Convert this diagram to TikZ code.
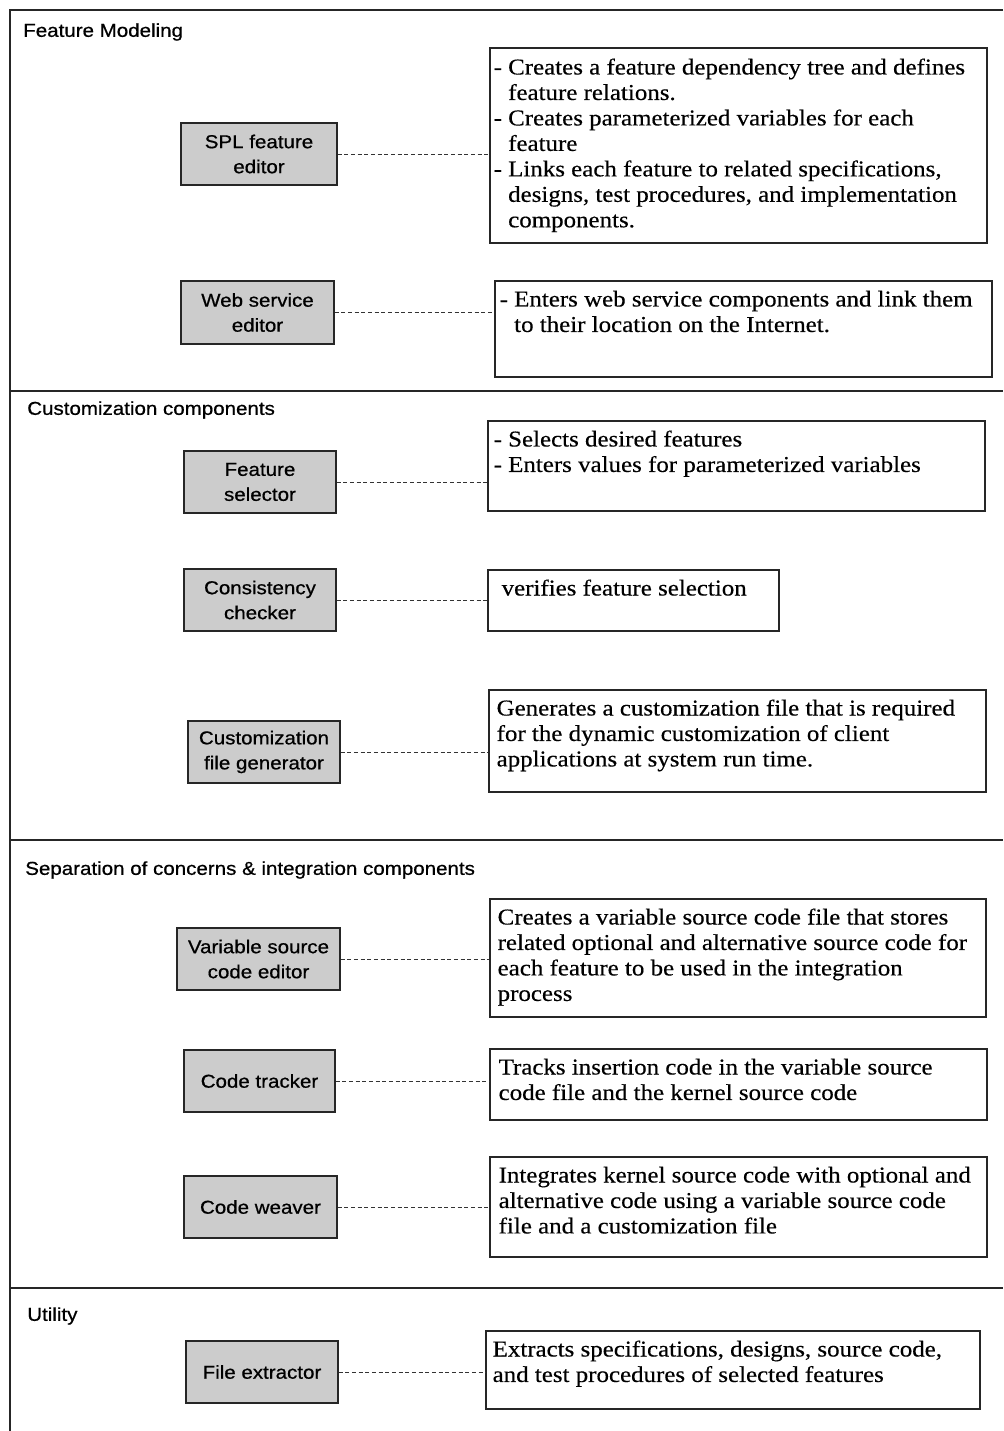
\documentclass[tikz,border=0pt]{standalone}
\usepackage{fontspec}
\setmainfont[FakeStretch=1.1,FakeBold=0.4]{Liberation Serif}
\setsansfont[FakeStretch=1.1,FakeBold=0.7]{Liberation Sans}
\usetikzlibrary{calc,fit}

\newcommand{\hang}{\hphantom{-\ }}

\begin{document}
\begin{tikzpicture}[x=0.75pt,y=-0.75pt,
  frameline/.style={draw=black!85, line width=1.1pt},
  % box given by its corners x1,y1,x2,y2 (pixel grid)
  span/.style n args={4}{at={({(#1+#3)/2},{(#2+#4)/2})},
    minimum width={(#3-#1)*0.75pt}, minimum height={(#4-#2)*0.75pt}},
  compbox/.style={draw=black!85, line width=0.9pt, fill=black!20, inner sep=0pt,
    font=\sffamily\fontsize{14}{18.75}\selectfont, align=center},
  descbox/.style={draw=black!85, line width=0.9pt, inner sep=0pt},
  desctext/.style={anchor=north west, inner sep=0pt, align=left,
    font=\rmfamily\fontsize{17}{19.1}\selectfont},
  sectitle/.style={anchor=west, inner sep=0pt, font=\sffamily\fontsize{14}{16}\selectfont},
  link/.style={draw=black!80, line width=0.6pt, dash pattern=on 3pt off 2pt}]

\useasboundingbox (0,0) rectangle (1003,1431);

% outer frame and section dividers
\draw[frameline] (1003,10) -- (10,10) -- (10,1431);
\draw[frameline] (10,391) -- (1003,391);
\draw[frameline] (10,840) -- (1003,840);
\draw[frameline] (10,1288) -- (1003,1288);

% section titles
\node[sectitle] (t1) at (23,32) {Feature Modeling};
\node[sectitle] (t2) at (27,410) {Customization components};
\node[sectitle] (t3) at (25,870) {Separation of concerns \& integration components};
\node[sectitle] (t4) at (27,1316) {Utility};

% components
\node[compbox, span={181}{123}{337}{185}] (g1) {SPL feature\\editor};
\node[compbox, span={181}{281}{334}{344}] (g2) {Web service\\editor};
\node[compbox, span={184}{451}{336}{513}] (g3) {Feature\\selector};
\node[compbox, span={184}{569}{336}{631}] (g4) {Consistency\\checker};
\node[compbox, span={188}{721}{340}{783}] (g5) {Customization\\file generator};
\node[compbox, span={177}{928}{340}{990}] (g6) {Variable source\\code editor};
\node[compbox, span={184}{1050}{335}{1112}] (g7) {Code tracker};
\node[compbox, span={184}{1176}{337}{1238}] (g8) {Code weaver};
\node[compbox, span={186}{1341}{338}{1403}] (g9) {File extractor};

% description frames
\node[descbox, fit={(490,48) (987,243)}] (d1) {};
\node[descbox, fit={(495,281) (992,377)}] (d2) {};
\node[descbox, fit={(488,421) (985,511)}] (d3) {};
\node[descbox, fit={(488,570) (779,631)}] (d4) {};
\node[descbox, fit={(489,690) (986,792)}] (d5) {};
\node[descbox, fit={(490,899) (986,1017)}] (d6) {};
\node[descbox, fit={(490,1049) (987,1120)}] (d7) {};
\node[descbox, fit={(490,1157) (987,1257)}] (d8) {};
\node[descbox, fit={(486,1331) (980,1409)}] (d9) {};

% description texts
\node[desctext] (x1) at ($(d1.north west)+(4,9)$) {\strut- Creates a feature dependency tree and defines\\
  \hang feature relations.\\
  - Creates parameterized variables for each\\
  \hang feature\\
  - Links each feature to related specifications,\\
  \hang designs, test procedures, and implementation\\
  \hang components.};
\node[desctext] (x2) at ($(d2.north west)+(5,8)$) {\strut- Enters web service components and link them\\
  \hang to their location on the Internet.};
\node[desctext] (x3) at ($(d3.north west)+(6,8)$) {\strut- Selects desired features\\
  - Enters values for parameterized variables};
\node[desctext] (x4) at ($(d4.north west)+(14,8)$) {\strut verifies feature selection};
\node[desctext] (x5) at ($(d5.north west)+(8,8)$) {\strut Generates a customization file that is required\\
  for the dynamic customization of client\\
  applications at system run time.};
\node[desctext] (x6) at ($(d6.north west)+(8,8)$) {\strut Creates a variable source code file that stores\\
  related optional and alternative source code for\\
  each feature to be used in the integration\\
  process};
\node[desctext] (x7) at ($(d7.north west)+(9,8)$) {\strut Tracks insertion code in the variable source\\
  code file and the kernel source code};
\node[desctext] (x8) at ($(d8.north west)+(9,8)$) {\strut Integrates kernel source code with optional and\\
  alternative code using a variable source code\\
  file and a customization file};
\node[desctext] (x9) at ($(d9.north west)+(7,8)$) {\strut Extracts specifications, designs, source code,\\
  and test procedures of selected features};

% dashed connectors
\foreach \i in {1,...,9}
  \draw[link] (g\i.east) -- (g\i.east -| d\i.west);

\end{tikzpicture}
\end{document}
